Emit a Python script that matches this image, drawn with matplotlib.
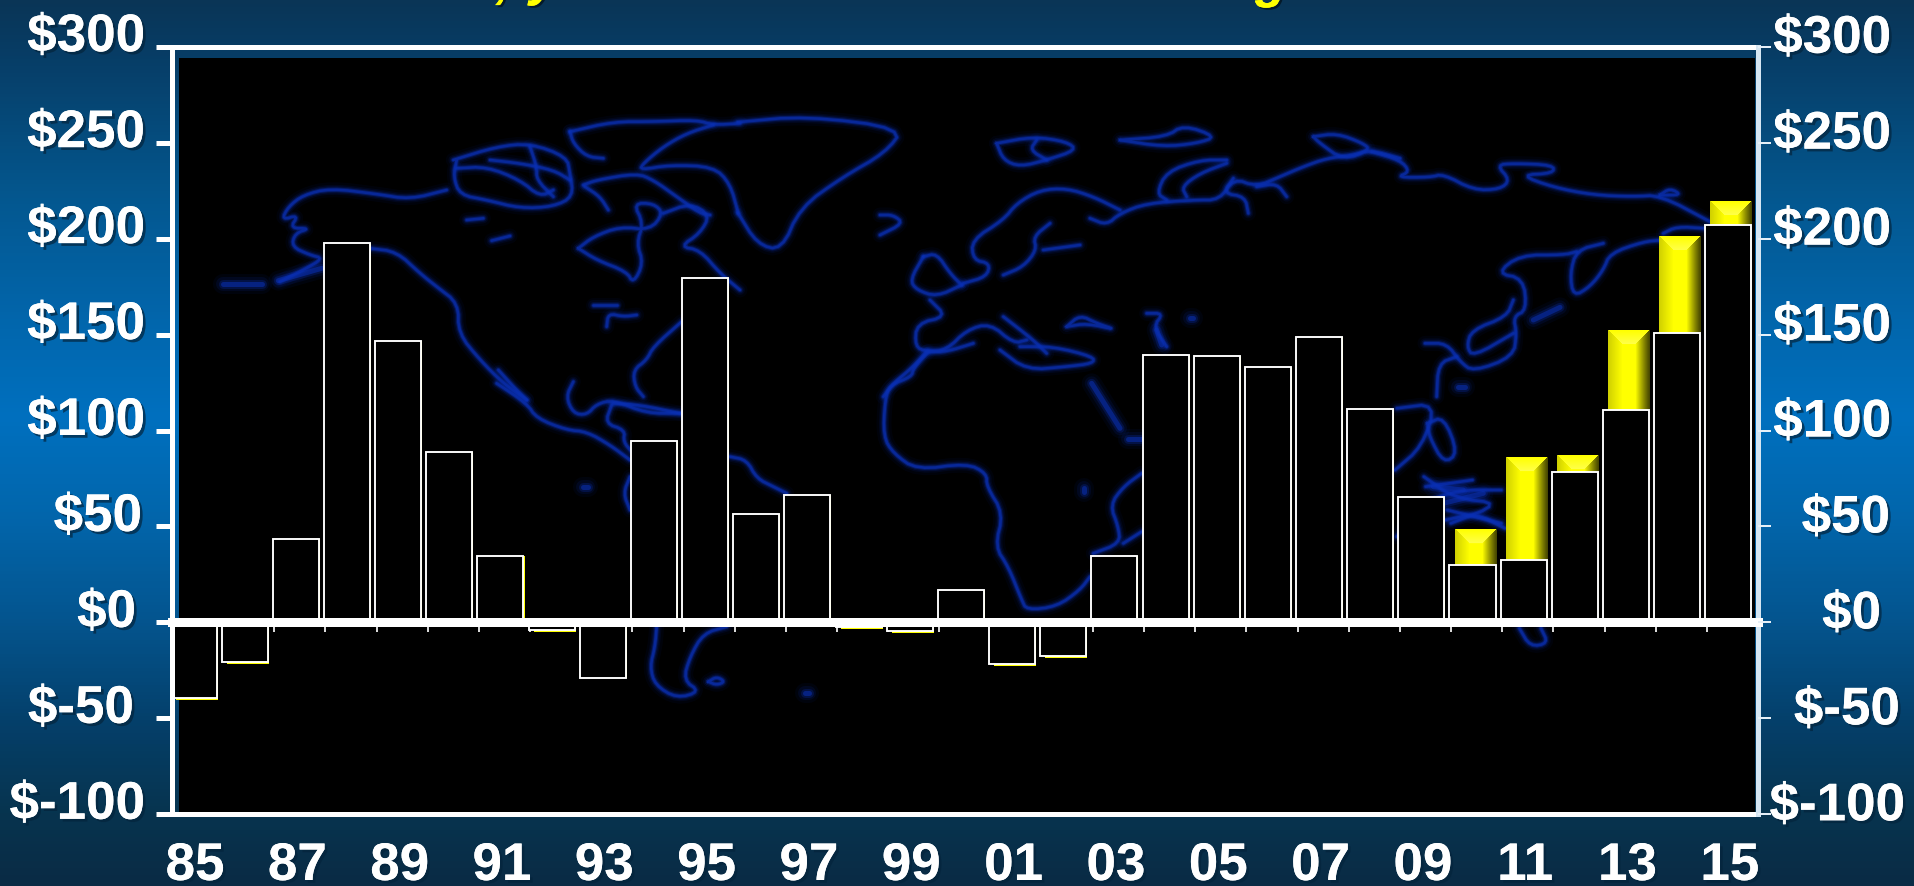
from __future__ import annotations

import matplotlib

matplotlib.use("Agg")

import matplotlib.patheffects as pe
import matplotlib.pyplot as plt
import numpy as np
from matplotlib.collections import LineCollection
from matplotlib.colors import LinearSegmentedColormap

plt.rcParams["font.family"] = ["Liberation Sans", "DejaVu Sans"]
plt.rcParams["font.weight"] = "bold"

WIDTH = 1915
HEIGHT = 886
PX = 72 / 100  # points per pixel at dpi=100

YEAR_LABELS = ["85", "87", "89", "91", "93", "95", "97", "99", "01", "03", "05", "07", "09", "11", "13", "15"]
Y_TICKS = [300, 250, 200, 150, 100, 50, 0, -50, -100]
Y_LABELS = ["$300", "$250", "$200", "$150", "$100", "$50", "$0", "$-50", "$-100"]

# 1985..2015, one value per year
FRONT_VALUES = [
    -39.4, -20.8, 43.6, 197.5, 146.6, 88.7, 34.7, -4.2, -29.0, 94.5, 179.7,
    56.3, 66.5, -2.4, -4.3, 16.9, -21.9, -17.7, 34.7, 139.6, 139.0, 133.3,
    148.5, 111.0, 65.6, 29.9, 32.5, 78.5, 110.6, 151.0, 207.0,
]
BACK_VALUES = [
    -40.3, -21.7, 43.6, 197.5, 146.6, 88.7, 34.7, -5.1, -29.0, 94.5, 179.7,
    56.3, 66.5, -3.4, -5.3, 16.9, -22.8, -18.6, 34.7, 139.6, 139.0, 133.3,
    148.5, 111.0, 65.6, 48.1, 85.6, 86.7, 151.7, 200.9, 219.0,
]

BG_STOPS = [
    (0.00, "#0a3556"), (0.06, "#073d66"), (0.22, "#04578f"), (0.36, "#0266ac"),
    (0.47, "#0070bf"), (0.58, "#0266ac"), (0.70, "#04558f"), (0.82, "#053f69"),
    (0.92, "#07344f"), (1.00, "#0a2b45"),
]

# coastline strokes, each as (tile left, tile top, points at 3x tile scale)
COAST = [
    # North America
    (220, 100, [(680, 270), (570, 298), (470, 282), (330, 265), (250, 285), (205, 320), (185, 360), (235, 345), (210, 385), (270, 385), (225, 400), (215, 440), (270, 465), (310, 475), (250, 510), (180, 545)]),
    (220, 100, [(450, 445), (530, 455), (600, 520), (650, 560), (715, 610), (715, 700), (780, 780), (850, 850), (920, 900)]),
    (220, 100, [(835, 810), (880, 860), (920, 900)]),
    (220, 100, [(1385, 665), (1300, 740), (1280, 780), (1240, 810), (1245, 860), (1270, 890)]),
    (220, 100, [(1075, 445), (1130, 480), (1220, 515), (1240, 550), (1270, 490), (1250, 430), (1270, 370), (1240, 310), (1300, 310), (1330, 340), (1290, 390), (1200, 380), (1120, 410), (1075, 445)]),
    (220, 100, [(1330, 340), (1410, 310), (1470, 345), (1440, 400), (1380, 440), (1440, 450), (1500, 520), (1560, 570)]),
    # Arctic islands
    (220, 100, [(700, 180), (830, 140), (930, 130), (1040, 170), (1050, 220), (1060, 290), (1000, 320), (900, 325), (800, 300), (720, 285), (700, 230), (710, 180)]),
    (220, 100, [(710, 205), (800, 200), (900, 240), (960, 290), (1000, 270)]),
    (220, 100, [(810, 180), (900, 190), (1000, 210), (1050, 240)]),
    (220, 100, [(930, 140), (950, 200), (950, 240), (1000, 290)]),
    (220, 100, [(1050, 95), (1060, 130), (1100, 170), (1150, 175)]),
    (220, 100, [(1090, 255), (1130, 240), (1250, 220), (1300, 240), (1370, 290), (1440, 340), (1470, 345)]),
    (220, 100, [(1095, 260), (1140, 290), (1165, 330)]),
    (220, 100, [(1050, 95), (1180, 65), (1300, 65), (1430, 60), (1480, 75), (1560, 70)]),
    (220, 100, [(1480, 75), (1400, 100), (1330, 140), (1270, 190), (1260, 210), (1350, 195), (1480, 200), (1530, 250), (1555, 340)]),
    (220, 100, [(740, 360), (790, 355)]),
    (220, 100, [(815, 422), (870, 408)]),
    (220, 100, [(1120, 615), (1190, 615)]),
    (220, 100, [(1160, 680), (1165, 640), (1210, 650), (1250, 645)]),
    # Central and South America
    (440, 380, [(170, 10), (260, 70), (290, 115), (380, 150), (440, 155), (510, 195), (570, 240)]),
    (440, 380, [(400, 5), (378, 50), (400, 100), (440, 105), (470, 72), (520, 60), (620, 100), (720, 100)]),
    (440, 380, [(520, 70), (600, 75), (720, 100)]),
    (440, 380, [(515, 75), (495, 130), (555, 150), (550, 185), (575, 215)]),
    (440, 380, [(870, 230), (920, 240), (950, 295), (1000, 320), (1040, 340)]),
    (440, 380, [(570, 290), (550, 340), (570, 390)]),
    (440, 380, [(650, 740), (645, 800), (630, 860), (645, 915), (710, 955), (780, 935), (730, 900), (750, 830), (790, 760), (860, 740)]),
    (440, 380, [(805, 905), (830, 890), (855, 905), (830, 915), (805, 905)]),
    # Greenland east side, Iceland, Svalbard, Franz Josef, Novaya Zemlya
    (880, 100, [(0, 345), (40, 345), (70, 370), (0, 405)]),
    (880, 100, [(350, 130), (460, 110), (560, 125), (590, 150), (500, 180), (420, 200), (370, 180), (350, 130)]),
    (880, 100, [(470, 120), (450, 150), (500, 180)]),
    (880, 100, [(720, 120), (860, 110), (910, 75), (1010, 110), (950, 130), (850, 140), (720, 120)]),
    (880, 100, [(1040, 180), (960, 180), (860, 215), (830, 280), (860, 300)]),
    (880, 100, [(1040, 190), (960, 220), (905, 260), (920, 290)]),
    # Europe
    (880, 100, [(720, 330), (640, 290), (560, 265), (480, 270), (410, 310), (370, 360), (275, 420), (280, 480), (330, 490), (320, 530), (250, 550)]),
    (880, 100, [(130, 470), (170, 460), (210, 520), (245, 555)]),
    (880, 100, [(130, 470), (90, 540), (110, 570), (170, 590), (245, 555)]),
    (880, 100, [(150, 600), (200, 650), (110, 670), (105, 740), (140, 755), (200, 750), (260, 690), (330, 670), (400, 730), (440, 720)]),
    (880, 100, [(370, 650), (460, 720), (500, 760)]),
    (880, 100, [(140, 755), (100, 800), (40, 850), (10, 890)]),
    (880, 100, [(360, 750), (440, 810), (560, 800), (640, 790), (640, 770), (520, 740), (420, 740)]),
    (880, 100, [(560, 680), (600, 645), (650, 670), (710, 690), (620, 670), (560, 680)]),
    (880, 100, [(800, 640), (850, 640), (820, 680), (860, 740)]),
    (880, 100, [(510, 370), (460, 410), (470, 450), (430, 500), (370, 525)]),
    (880, 100, [(490, 450), (600, 435)]),
    # Northern Russia
    (880, 100, [(630, 355), (680, 375), (720, 340), (800, 310), (940, 300), (1020, 300), (1060, 235), (1130, 260), (1200, 230), (1270, 200), (1340, 175), (1420, 165), (1470, 150), (1560, 175)]),
    (880, 100, [(1060, 235), (1030, 280), (1095, 290), (1105, 340)]),
    (880, 100, [(1130, 260), (1190, 250), (1220, 290)]),
    (880, 100, [(1300, 110), (1370, 100), (1450, 130), (1470, 150), (1390, 180), (1320, 130), (1300, 110)]),
    (1300, 100, [(215, 155), (300, 180), (330, 215), (290, 232), (390, 232), (430, 222), (520, 270), (600, 268), (630, 240), (590, 195), (640, 190), (760, 195), (760, 220), (660, 225), (760, 262), (880, 285), (1000, 290), (1080, 285), (1230, 365)]),
    (1300, 100, [(1080, 285), (1110, 265), (1145, 285), (1080, 285)]),
    # Far east
    (1300, 100, [(1215, 385), (1130, 380), (1090, 400)]),
    (1300, 100, [(1090, 420), (1030, 425), (930, 460), (910, 510), (870, 560), (820, 590), (810, 520), (830, 450), (910, 430)]),
    (1300, 100, [(830, 455), (790, 465), (660, 465), (590, 520), (670, 535), (680, 630), (640, 650), (650, 700), (640, 770), (520, 815), (480, 785), (440, 730), (375, 730)]),
    (1300, 100, [(640, 600), (620, 650), (515, 690), (500, 740), (520, 770), (640, 700)]),
    (1300, 100, [(410, 890), (415, 790), (470, 770)]),
    # Africa
    (860, 340, [(205, 35), (160, 85), (155, 110), (90, 135), (75, 180), (70, 290), (100, 340), (170, 390), (320, 370), (380, 400), (380, 440), (430, 520), (405, 620), (445, 680), (485, 780), (500, 810), (590, 800), (660, 750), (690, 710)]),
    (860, 340, [(205, 35), (260, 35), (340, 10)]),
    (860, 340, [(845, 400), (790, 440), (750, 495), (775, 560), (780, 610), (700, 640)]),
    (860, 340, [(790, 610), (845, 575)]),
]

# blurred thick strokes: seas, lakes and small islands
COAST_THICK = [
    (220, 100, [(10, 553), (125, 553)]),
    (220, 100, [(175, 542), (305, 505)]),
    (440, 380, [(428, 320), (445, 320)]),
    (440, 380, [(1095, 940), (1108, 940)]),
    (860, 340, [(695, 130), (780, 265)]),
    (860, 340, [(805, 298), (845, 298)]),
    (860, 340, [(672, 445), (672, 455)]),
    (880, 100, [(930, 655), (940, 655)]),
    (880, 100, [(830, 690), (845, 735)]),
    (1300, 100, [(700, 660), (780, 622)]),
    (1300, 100, [(475, 862), (495, 862)]),
    (1350, 170, [(250, 950), (340, 960)]),
    (1350, 170, [(280, 1000), (400, 970)]),
]

# south-east Asia strokes are on a narrower tile scale
ASIA_SCALE = (2.775, 3.0)
COAST_ASIA = [
    (1350, 170, [(125, 900), (200, 830), (240, 700), (130, 715)]),
    (1350, 170, [(215, 760), (260, 740), (300, 850), (260, 880), (220, 800), (215, 760)]),
    (1350, 170, [(130, 1100), (200, 1000), (300, 960), (420, 960)]),
    (1350, 170, [(270, 1020), (420, 1060)]),
    (1350, 170, [(210, 950), (340, 930)]),
    (1350, 170, [(205, 920), (290, 985), (420, 1000), (280, 1060)]),
    (1350, 170, [(265, 1050), (350, 1030), (430, 1075)]),
    (1350, 170, [(470, 1375), (500, 1430), (550, 1420), (530, 1375)]),
]
# Greenland north and east coast, in scaled-down picture units
GREENLAND = [(604, 100), (660, 95), (740, 105), (725, 125), (690, 145), (655, 170), (640, 205), (620, 200), (604, 174)]


def tile_path(left: float, top: float, points: list, scale=(3.0, 3.0)) -> np.ndarray:
    pts = np.array(points, dtype=float)
    pts[:, 0] = pts[:, 0] / scale[0] + left
    pts[:, 1] = pts[:, 1] / scale[1] + top
    return pts


def smooth(path: np.ndarray, passes: int = 2) -> np.ndarray:
    # corner cutting so coast lines do not look like polygons
    for _ in range(passes):
        a = path[:-1]
        b = path[1:]
        mid = np.empty((2 * len(a), 2))
        mid[0::2] = 0.75 * a + 0.25 * b
        mid[1::2] = 0.25 * a + 0.75 * b
        path = np.vstack([path[:1], mid, path[-1:]])
    return path


def draw_background(ax) -> None:
    cmap = LinearSegmentedColormap.from_list("bg", BG_STOPS)
    ramp = np.linspace(0, 1, HEIGHT)[:, None]
    ax.imshow(ramp, cmap=cmap, extent=(0, WIDTH, HEIGHT, 0), aspect="auto", zorder=0)
    ax.fill_between([178.6, 1755], 58, 812, color="black", lw=0, zorder=1)


def draw_map(ax) -> None:
    thin = [smooth(tile_path(*stroke)) for stroke in COAST]
    thin += [smooth(tile_path(left, top, pts, ASIA_SCALE)) for left, top, pts in COAST_ASIA]
    thin.append(smooth(tile_path(0, 0, GREENLAND, (1 / 1.2213, 1 / 1.2213))))
    thick = [tile_path(*stroke) for stroke in COAST_THICK]

    for lw, alpha in [(15, 0.06), (10, 0.10), (7, 0.18), (4.5, 0.40), (2.6, 0.65)]:
        ax.add_collection(LineCollection(thin, colors="#0a30b4", linewidths=lw * PX, alpha=alpha, zorder=2, capstyle="round", joinstyle="round"))
    for lw, alpha in [(20, 0.07), (14, 0.12), (9, 0.25), (5, 0.55)]:
        ax.add_collection(LineCollection(thick, colors="#0a30b4", linewidths=lw * PX, alpha=alpha, zorder=2, capstyle="round", joinstyle="round"))


def bevel_image(width_px: int, height_px: int, bevel: int = 14) -> np.ndarray:
    # RGB block with a bright top facet and darkening right edge
    img = np.zeros((height_px, width_px, 3))
    for row in range(height_px):
        for col in range(width_px):
            d_left = col
            d_right = width_px - 1 - col
            if row < min(d_left, d_right, bevel):
                t = row / bevel
                rgb = (1.0, 1.0, 0.30 * t)
            elif d_right < bevel and d_right <= d_left:
                b = 0.28 + 0.72 * (d_right / bevel) ** 1.1
                rgb = (b, b, 0.0)
            elif d_left < bevel:
                b = 0.82 + 0.18 * d_left / bevel
                rgb = (b, b, 0.0)
            else:
                rgb = (1.0, 1.0, 0.0)
            img[row, col] = rgb
    return img


def main() -> None:
    fig = plt.figure(figsize=(WIDTH / 100, HEIGHT / 100), dpi=100)

    bg = fig.add_axes([0, 0, 1, 1], zorder=0)
    bg.set_xlim(0, WIDTH)
    bg.set_ylim(HEIGHT, 0)
    bg.axis("off")
    draw_background(bg)
    draw_map(bg)
    bg.set_xlim(0, WIDTH)
    bg.set_ylim(HEIGHT, 0)

    # heading sits mostly above the top edge, only its descenders show
    for x, y, glyph in [(503, -3, ","), (544, -5, "y"), (1271, -3, "g")]:
        bg.text(x, y, glyph, color="#ffff00", fontsize=52 * PX, style="italic", ha="center", va="baseline", clip_on=False,
                path_effects=[pe.withSimplePatchShadow(offset=(1.5, -1.5), shadow_rgbFace="black", alpha=0.5), pe.Normal()])

    left, right, top, bottom = 172, 1758, 46.7, 814.3
    ax = fig.add_axes([left / WIDTH, 1 - bottom / HEIGHT, (right - left) / WIDTH, (bottom - top) / HEIGHT], zorder=1)
    ax.patch.set_visible(False)

    positions = np.arange(len(FRONT_VALUES))
    front = np.array(FRONT_VALUES)
    back = np.array(BACK_VALUES)
    ax.bar(positions - 0.02, back, width=0.82, color="#ffff00", linewidth=0, zorder=1.5)
    ax.set_xlim(-0.5, 30.5)
    ax.set_ylim(-100, 300)

    px_per_value = (bottom - top) / 400
    for pos, value, upper in zip(positions, front, back):
        if upper > value and upper > 0:
            img = bevel_image(42, int(round(upper * px_per_value)))
            ax.imshow(img, extent=(pos - 0.43, pos + 0.39, 0, upper), aspect="auto", interpolation="bilinear", zorder=1.6)
    ax.set_xlim(-0.5, 30.5)
    ax.set_ylim(-100, 300)

    ax.bar(positions - 0.08, front, width=0.9, color="black", edgecolor="white", linewidth=1.9 * PX, zorder=2)

    for side in ["left", "top"]:
        ax.spines[side].set_color("white")
        ax.spines[side].set_linewidth(5 * PX)
    ax.spines["right"].set_visible(False)
    ax.spines["bottom"].set_position(("data", 0))
    ax.spines["bottom"].set_color("white")
    ax.spines["bottom"].set_linewidth(9 * PX)
    ax.spines["bottom"].set_zorder(3)
    ax.axhline(-100, color="white", linewidth=5 * PX, clip_on=False, zorder=3)
    ax.axvline(30.5, color="#d5e6f3", linewidth=5 * PX, clip_on=False, zorder=3)

    ax.set_yticks(Y_TICKS)
    ax.set_yticklabels([])
    ax.tick_params(axis="y", length=16 * PX, width=5 * PX, color="white")
    ax.set_xticks(positions[1:] - 0.5)
    ax.set_xticklabels([])
    ax.tick_params(axis="x", length=10 * PX, width=1.7 * PX, color="white")

    twin = ax.twinx()
    twin.set_ylim(-100, 300)
    twin.set_yticks(Y_TICKS)
    twin.set_yticklabels([])
    twin.tick_params(axis="y", length=13 * PX, width=2 * PX, color="#e6f0f8")
    for spine in twin.spines.values():
        spine.set_visible(False)

    shadow = [pe.withSimplePatchShadow(offset=(2, -2), shadow_rgbFace="#04243c", alpha=0.7), pe.Normal()]
    left_edges = [145, 145, 145, 145, 145, 142, 136, 134, 145]
    right_edges = [1891, 1891, 1891, 1891, 1891, 1890, 1881, 1900, 1905]
    for value, label, x_left, x_right in zip(Y_TICKS, Y_LABELS, left_edges, right_edges):
        ax.annotate(label, xy=(x_left, value), xycoords=("figure pixels", "data"), xytext=(0, 9.5), textcoords="offset pixels",
                    ha="right", va="center", color="white", fontsize=53 * PX, annotation_clip=False, path_effects=shadow)
        ax.annotate(label, xy=(x_right, value), xycoords=("figure pixels", "data"), xytext=(0, 8), textcoords="offset pixels",
                    ha="right", va="center", color="white", fontsize=53 * PX, annotation_clip=False, path_effects=shadow)

    for pos, label in zip(positions[::2], YEAR_LABELS):
        ax.annotate(label, xy=(pos - 0.05, 6), xycoords=("data", "figure pixels"), ha="center", va="baseline",
                    color="white", fontsize=53 * PX, annotation_clip=False, path_effects=shadow)

    fig.savefig("out.png", dpi=100)
    plt.close(fig)


if __name__ == "__main__":
    main()
